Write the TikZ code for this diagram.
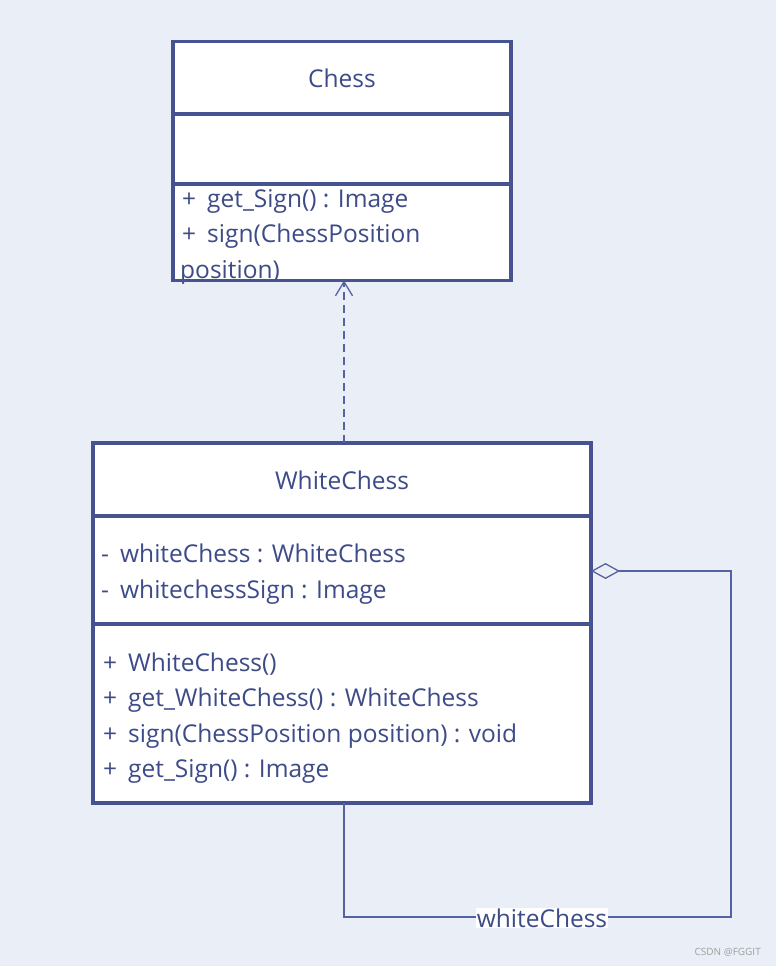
\documentclass[tikz,border=0pt]{standalone}
\usepackage{fontspec}
\setmainfont{Open Sans}
\usetikzlibrary{arrows.meta,calc}
\definecolor{bg}{HTML}{EAEEF7}
\definecolor{boxline}{HTML}{475290}
\definecolor{txt}{HTML}{3D4B88}
\definecolor{conn}{HTML}{5561A0}
\newcommand{\umlfont}{\fontsize{24.5}{28}\selectfont}
\newcommand{\pl}[1]{\makebox[25pt][l]{+}#1}
\newcommand{\mi}[1]{\makebox[19pt][l]{-}#1}
\tikzset{
  classbox/.style={draw=boxline, line width=3.6pt, fill=white, rectangle, inner sep=0pt, outer sep=0pt, anchor=north west},
  divider/.style={draw=boxline, line width=3.6pt},
  member/.style={anchor=base west, inner sep=0pt, text=txt, font=\umlfont},
  title/.style={anchor=base, inner sep=0pt, text=txt, font=\umlfont},
  realize/.style={draw=conn, line width=1.3pt, dash pattern=on 8pt off 5pt, -{Straight Barb[length=14pt,width=17pt,line width=1.3pt]}},
  aggline/.style={draw=conn, line width=1.3pt, {Diamond[open,length=29pt,width=16pt,line width=1.3pt,fill=bg]}-},
  rolelabel/.style={fill=white, text=txt, font=\umlfont, inner sep=1pt},
  wmark/.style={text=gray!75, font=\fontsize{10}{11}\selectfont, anchor=base east, inner sep=0pt}
}
\begin{document}
\begin{tikzpicture}[x=1pt,y=-1pt]
\useasboundingbox[fill=bg] (0,0) rectangle (776,966);
% Chess class
\node[classbox, minimum width=338pt, minimum height=239pt] (chess) at (173,41.5) {};
\node[title] (chessname) at (342,88) {Chess};
\node[member] (cm1) at (182,207) {\pl{get\_Sign() : Image}};
\node[member] (cm2) at (182,242.5) {\pl{sign(ChessPosition}};
\node[member] (cm3) at (180,278) {position)};
\draw[divider] (chess.west |- 0,114) -- (chess.east |- 0,114);
\draw[divider] (chess.west |- 0,184) -- (chess.east |- 0,184);
\draw[boxline, line width=3.6pt] (chess.south west) -- (chess.south east);
% WhiteChess class
\node[classbox, minimum width=498pt, minimum height=360pt] (wc) at (93,443) {};
\node[title] (wcname) at (342,489) {WhiteChess};
\draw[divider] (wc.west |- 0,516) -- (wc.east |- 0,516);
\draw[divider] (wc.west |- 0,624) -- (wc.east |- 0,624);
\node[member] (wa1) at (101,562) {\mi{whiteChess : WhiteChess}};
\node[member] (wa2) at (101,598) {\mi{whitechessSign : Image}};
\node[member] (wm1) at (103,671) {\pl{WhiteChess()}};
\node[member] (wm2) at (103,706.5) {\pl{get\_WhiteChess() : WhiteChess}};
\node[member] (wm3) at (103,742) {\pl{sign(ChessPosition position) : void}};
\node[member] (wm4) at (103,777.5) {\pl{get\_Sign() : Image}};
% realization
\draw[realize] ($(wc.north)+(2,0)$) -- ($(chess.south)+(2,0)$);
% self aggregation
\coordinate (aggS) at ($(wc.north east)+(0,128)$);
\coordinate (c2) at (731,917);
\draw[aggline] (aggS) -| (c2) -| ($(wc.south)+(2,0)$);
\node[rolelabel] (role) at (542,918) {whiteChess};
\node[wmark] (wm) at (761,955) {CSDN @FGGIT};
\end{tikzpicture}
\end{document}
